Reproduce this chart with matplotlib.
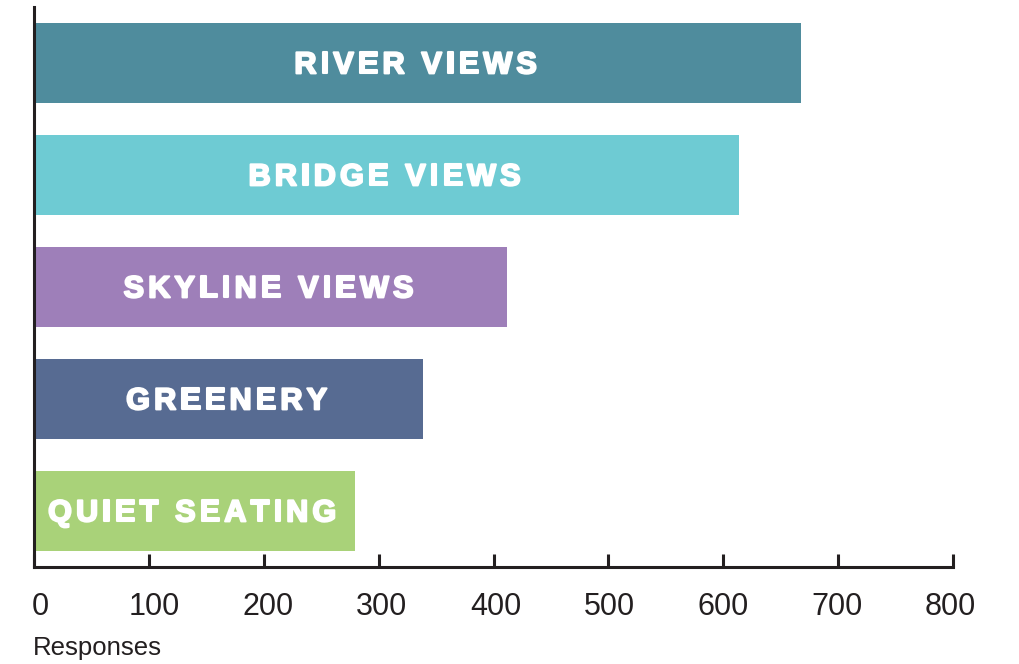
import matplotlib
matplotlib.use("Agg")
import matplotlib.pyplot as plt
import matplotlib.patheffects as pe
from matplotlib.font_manager import FontProperties
from matplotlib.textpath import TextToPath
from matplotlib.transforms import ScaledTranslation

categories = ["RIVER VIEWS", "BRIDGE VIEWS", "SKYLINE VIEWS", "GREENERY", "QUIET SEATING"]
responses = [668, 614, 412, 339, 279]
colors = ["#4f8c9d", "#6ecbd3", "#9e7fb9", "#576b92", "#a9d279"]
xticks = [0, 100, 200, 300, 400, 500, 600, 700, 800]

W, H, DPI = 1019, 664, 100
INK = "#231f20"

fig = plt.figure(figsize=(W / DPI, H / DPI), dpi=DPI)
ax = fig.add_axes([34 / W, 1 - 567 / H, 919 / W, 560 / H])

ypos = list(range(len(categories)))
ax.barh(ypos, responses, height=0.714, color=colors, zorder=2)
ax.set_xlim(0, 800)
ax.set_ylim(4.5, -0.5)

for s in ["top", "right"]:
    ax.spines[s].set_visible(False)
for s in ["left", "bottom"]:
    ax.spines[s].set_linewidth(2.2)
    ax.spines[s].set_color(INK)
ax.set_yticks([])
ax.set_xticks(xticks)
ax.set_xticklabels([str(t) for t in xticks], fontfamily="Liberation Sans")
ax.tick_params(axis="x", direction="in", length=9.5, width=2.2, color=INK,
               labelsize=22, labelcolor=INK, pad=18)

# labels in the reference sit on an even grid slightly narrower than the ticks
for i, lbl in enumerate(ax.get_xticklabels()):
    dx = (6.5 - i * 1.125) / DPI
    lbl.set_transform(lbl.get_transform() + ScaledTranslation(dx, 0, fig.dpi_scale_trans))

fig.text(33 / W, 1 - 655 / H, "Responses", ha="left", va="baseline",
         fontsize=18.5, color=INK, fontfamily="Liberation Sans")

# bar labels with letter spacing, placed char by char
prop = FontProperties(family="Liberation Sans", weight="bold", size=22)
ttp = TextToPath()
px_per_unit = 919 / 800
tracking = 4.2  # px between letters
heavy = [pe.withStroke(linewidth=1.5, foreground="white")]


def char_w(c):
    w, h, d = ttp.get_text_width_height_descent(c, prop, ismath=False)
    return w * DPI / 72


for y, label, val in zip(ypos, categories, responses):
    widths = [char_w(c) for c in label]
    total = sum(widths) + tracking * len(label)
    x = val / 2 * px_per_unit - total / 2
    for c, w in zip(label, widths):
        ax.text(x / px_per_unit, y - 0.01, c, ha="left", va="center_baseline",
                fontproperties=prop, color="white", zorder=3, path_effects=heavy)
        x += w + tracking

fig.savefig("out.png", dpi=DPI)
